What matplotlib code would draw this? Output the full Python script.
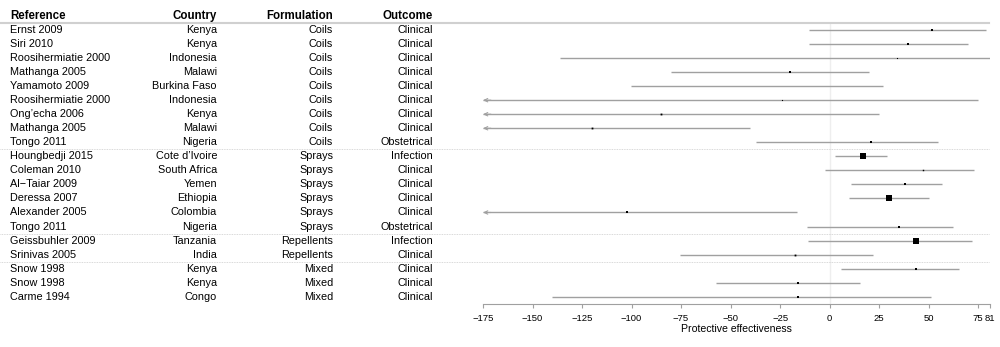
import numpy as np
import matplotlib
matplotlib.use("Agg")
import matplotlib.pyplot as plt
from matplotlib.transforms import blended_transform_factory

plt.rcParams['font.family'] = ['Liberation Sans', 'DejaVu Sans']

# donnees
reference = ["Ernst 2009", "Siri 2010", "Roosihermiatie 2000", "Mathanga 2005",
             "Yamamoto 2009", "Roosihermiatie 2000", "Ong\u2019echa 2006", "Mathanga 2005",
             "Tongo 2011", "Houngbedji 2015", "Coleman 2010", "Al\u2212Taiar 2009",
             "Deressa 2007", "Alexander 2005", "Tongo 2011", "Geissbuhler 2009",
             "Srinivas 2005", "Snow 1998", "Snow 1998", "Carme 1994"]
country = ["Kenya", "Kenya", "Indonesia", "Malawi", "Burkina Faso", "Indonesia", "Kenya",
           "Malawi", "Nigeria", "Cote d\u2019Ivoire", "South Africa", "Yemen", "Ethiopia",
           "Colombia", "Nigeria", "Tanzania", "India", "Kenya", "Kenya", "Congo"]
formulation = ["Coils"] * 9 + ["Sprays"] * 6 + ["Repellents"] * 2 + ["Mixed"] * 3
outcome = ["Clinical", "Clinical", "Clinical", "Clinical", "Clinical", "Clinical", "Clinical",
           "Clinical", "Obstetrical", "Infection", "Clinical", "Clinical", "Clinical",
           "Clinical", "Obstetrical", "Infection", "Clinical", "Clinical", "Clinical", "Clinical"]

estimate = [51.9, 39.7, 33.8, -20.1, -36.0, -24.2, -85.1, -120.1, 21.0, 16.9,
            47.1, 37.9, 29.8, -102.2, 35.1, 43.7, -17.7, 43.5, -16.1, -16.1]
ci_low = [-10.2, -10.2, -136.1, -80.0, -100.1, -230.0, -240.0, -260.0, -37.2, 2.9,
          -2.2, 10.7, 9.9, -250.0, -11.3, -10.7, -75.6, 6.0, -57.1, -140.0]
ci_high = [79.0, 69.8, 81.0, 19.8, 26.9, 74.7, 24.9, -40.3, 54.6, 29.0,
           72.8, 56.8, 50.0, -16.2, 62.4, 71.9, 21.8, 65.5, 15.2, 51.2]
weight = [4.0, 3.5, 1.5, 3.0, 0.0, 1.5, 2.5, 2.5, 3.5, 9.0,
          2.0, 3.5, 7.5, 3.5, 3.5, 8.0, 2.5, 3.0, 3.5, 3.5]

tick_values = [-175, -150, -125, -100, -75, -50, -25, 0, 25, 50, 75, 81]
group_breaks = [8.5, 14.5, 16.5]

x_min, x_max = -175, 81
n = len(reference)
y = np.arange(n)

fig = plt.figure(figsize=(10, 3.47), dpi=100)
ax = fig.add_axes([0.483, 43 / 347, 0.507, 281 / 347])
ax.set_xlim(x_min, x_max)
ax.set_ylim(19.52, -0.5)

# ligne verticale a zero
ax.axvline(0, color="#eeeeee", lw=1, zorder=0)

for i in range(n):
    lo = max(ci_low[i], x_min)
    hi = min(ci_high[i], x_max)
    ax.plot([lo, hi], [y[i], y[i]], color="#a0a0a0", lw=1, solid_capstyle="butt", zorder=1)
    if ci_low[i] < x_min:
        ax.annotate("", xy=(x_min, y[i]), xytext=(x_min + 4, y[i]),
                    arrowprops=dict(arrowstyle="->,head_length=0.25,head_width=0.12",
                                    color="#a0a0a0", lw=0.8, shrinkA=0, shrinkB=0))
    if weight[i] > 0:
        ax.plot(estimate[i], y[i], marker="s", color="black", ms=weight[i] * 0.52,
                mew=0, zorder=2)

# axe du bas
for s in ["top", "right", "left"]:
    ax.spines[s].set_visible(False)
ax.spines["bottom"].set_color("#a0a0a0")
ax.spines["bottom"].set_bounds(x_min, x_max)
ax.set_yticks([])
ax.set_xticks(tick_values)
ax.set_xticklabels([f"{v:d}".replace("-", "\u2212") for v in tick_values])
ax.tick_params(axis="x", colors="#a0a0a0", labelcolor="black", labelsize=6.8,
               length=3, pad=4.5)
ax.set_xlabel("Protective effectiveness", fontsize=7.6, labelpad=0.5)

# tableau de gauche
tr = blended_transform_factory(fig.transFigure, ax.transData)
cols = [(0.010, "left", "Reference", reference),
        (0.217, "right", "Country", country),
        (0.333, "right", "Formulation", formulation),
        (0.433, "right", "Outcome", outcome)]
for xpos, ha, title, values in cols:
    fig.text(xpos, -0.98, title, transform=tr, ha=ha, va="center",
             fontsize=8.3, fontweight="bold")
    for i in range(n):
        fig.text(xpos, y[i], values[i], transform=tr, ha=ha, va="center", fontsize=7.8)

# lignes horizontales
ax.plot([0, 0.989], [-0.52, -0.52], transform=tr, color="#d0d0d0", lw=1.5, clip_on=False)
for b in group_breaks:
    ax.plot([0, 0.989], [b, b], transform=tr, color="#cccccc", lw=0.6,
            ls=(0, (1, 1)), clip_on=False)

fig.savefig("out.png", dpi=100)
